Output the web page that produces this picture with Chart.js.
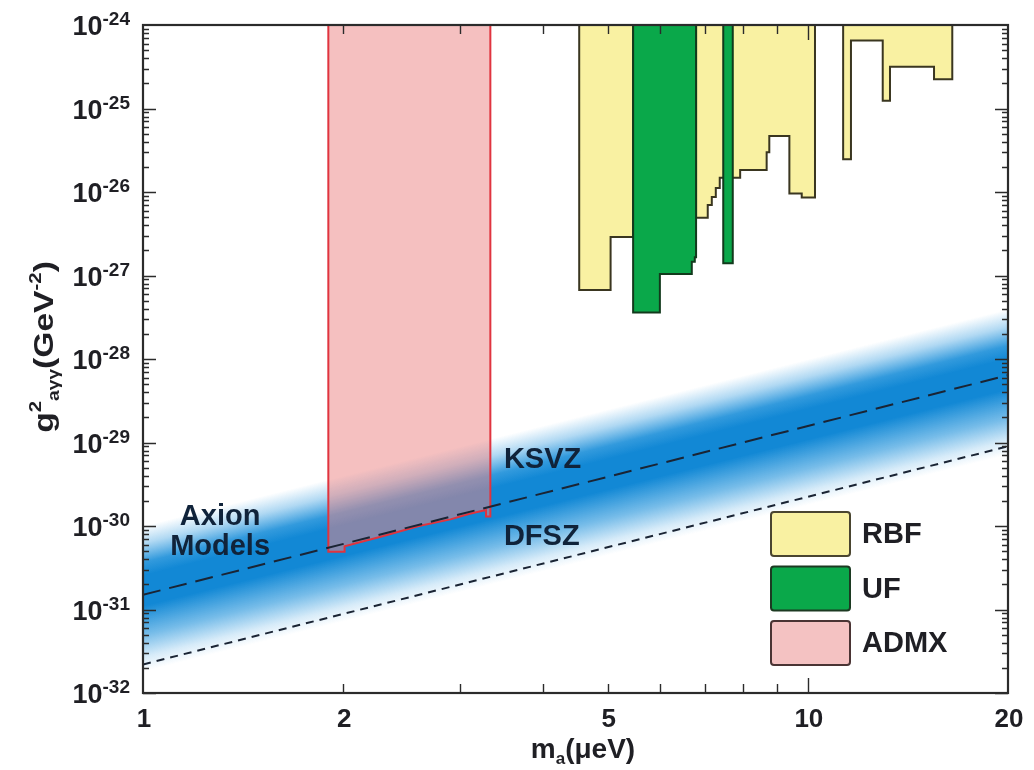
<!DOCTYPE html>
<html>
<head>
<meta charset="utf-8">
<script src="https://cdn.jsdelivr.net/npm/chart.js@4"></script>
<style>
  html, body { margin: 0; padding: 0; background: #fff; }
</style>
</head>
<body>
<canvas id="myChart" width="1034" height="770"></canvas>
<script>
// axis ranges and ticks
const massRange = [1, 20];
const couplingRange = [1e-32, 1e-24];
const massTicks = [1, 2, 5, 10, 20];
const massMinor = [2, 3, 4, 5, 6, 7, 8, 9, 10];
const decades = [-24, -25, -26, -27, -28, -29, -30, -31, -32];

// model lines (values at m = 1 and m = 20 ueV)
const ksvz = [1.5e-31, 6.4e-29];
const dfsz = [2.2e-32, 9.0e-30];
const bandTop = [1.0e-30, 4.0e-28];
const bandBottom = [1.8e-32, 7.0e-30];

// ADMX excluded region (lower edge)
const admxMass  = [1.90, 1.90, 2.01, 2.01, 2.3, 2.6, 2.9, 3.1, 3.28, 3.28, 3.33, 3.33];
const admxLimit = [1e-24, 4.9e-31, 4.9e-31, 5.7e-31, 7.6e-31, 1.0e-30, 1.2e-30, 1.4e-30, 1.55e-30, 1.3e-30, 1.3e-30, 1e-24];

// RBF excluded regions
const rbfMass = [4.53, 4.53, 5.05, 5.05, 5.46, 5.46,
  6.79, 6.79, 7.07, 7.07, 7.17, 7.17, 7.27, 7.27, 7.37, 7.37, 7.91, 7.91, 8.67, 8.67, 8.75, 8.75, 9.38, 9.38, 9.79, 9.79, 10.25, 10.25,
  11.30, 11.30, 11.61, 11.61, 12.96, 12.96, 13.29, 13.29, 15.48, 15.48, 16.49, 16.49];
const rbfLimit = [1e-24, 6.7e-28, 6.7e-28, 2.9e-27, 2.9e-27, 1e-24,
  1e-24, 4.9e-27, 4.9e-27, 7.0e-27, 7.0e-27, 8.7e-27, 8.7e-27, 1.12e-26, 1.12e-26, 1.48e-26, 1.48e-26, 1.83e-26, 1.83e-26, 3.0e-26, 3.0e-26, 4.7e-26, 4.7e-26, 9.6e-27, 9.6e-27, 8.6e-27, 8.6e-27, 1e-24,
  1e-24, 2.46e-26, 2.46e-26, 6.5e-25, 6.5e-25, 1.24e-25, 1.24e-25, 3.17e-25, 3.17e-25, 2.24e-25, 2.24e-25, 1e-24];

// UF excluded regions
const ufMass  = [5.46, 5.46, 5.99, 5.99, 6.69, 6.69, 6.76, 6.76, 6.79, 6.79, 7.46, 7.46, 7.71, 7.71];
const ufLimit = [1e-24, 3.6e-28, 3.6e-28, 1.04e-27, 1.04e-27, 1.46e-27, 1.46e-27, 1.65e-27, 1.65e-27, 1e-24, 1e-24, 1.4e-27, 1.4e-27, 1e-24];

const pts = (xs, ys) => xs.map((x, i) => ({ x: x, y: ys[i] }));
const FONT = '"Liberation Sans", Arial, Helvetica, sans-serif';
const INK = '#1f1f24';
const NAVY = '#10233a';

function bandFill(context) {
  const chart = context.chart;
  const area = chart.chartArea;
  if (!area) return 'rgba(0,0,0,0)';
  const xs = chart.scales.x, ys = chart.scales.y;
  const x0 = xs.getPixelForValue(massRange[0]), x1 = xs.getPixelForValue(massRange[1]);
  const c0 = (ys.getPixelForValue(bandTop[0]) + ys.getPixelForValue(bandBottom[0])) / 2;
  const c1 = (ys.getPixelForValue(bandTop[1]) + ys.getPixelForValue(bandBottom[1])) / 2;
  const ang = Math.atan2(c1 - c0, x1 - x0);
  const half = (ys.getPixelForValue(bandBottom[0]) - ys.getPixelForValue(bandTop[0])) / 2 * Math.cos(ang);
  const nx = -Math.sin(ang), ny = Math.cos(ang);
  const g = chart.ctx.createLinearGradient(x0 - nx * half, c0 - ny * half, x0 + nx * half, c0 + ny * half);
  g.addColorStop(0, 'rgba(30,145,220,0)');
  g.addColorStop(0.12, 'rgba(30,145,220,0.35)');
  g.addColorStop(0.25, 'rgba(22,140,216,0.88)');
  g.addColorStop(0.34, 'rgba(18,136,213,1)');
  g.addColorStop(0.55, 'rgba(18,136,213,1)');
  g.addColorStop(0.75, 'rgba(28,144,218,0.6)');
  g.addColorStop(0.9, 'rgba(30,145,220,0.18)');
  g.addColorStop(1, 'rgba(30,145,220,0)');
  return g;
}

function drawRich(c, parts, x, y) {
  let cx = x;
  parts.forEach(p => {
    c.font = p.font;
    c.fillText(p.t, cx, y + (p.dy || 0));
    cx += c.measureText(p.t).width;
  });
}
function richWidth(c, parts) {
  let w = 0;
  parts.forEach(p => { c.font = p.font; w += c.measureText(p.t).width; });
  return w;
}

const notes = [
  { text: 'Axion', m: 1.306, g: 1.03e-30, align: 'center' },
  { text: 'Models', m: 1.306, g: 4.5e-31, align: 'center' },
  { text: 'KSVZ', m: 3.49, g: 4.95e-30, align: 'left' },
  { text: 'DFSZ', m: 3.49, g: 5.9e-31, align: 'left' }
];

const frame = {
  id: 'frame',
  afterDatasetsDraw(chart) {
    const c = chart.ctx;
    const { left, right, top, bottom } = chart.chartArea;
    const xs = chart.scales.x, ys = chart.scales.y;
    c.save();

    // annotations
    c.fillStyle = NAVY;
    c.font = 'bold 29px ' + FONT;
    c.textBaseline = 'alphabetic';
    notes.forEach(n => {
      c.textAlign = n.align;
      c.fillText(n.text, xs.getPixelForValue(n.m), ys.getPixelForValue(n.g));
    });

    // ticks
    c.strokeStyle = '#2b2b2b';
    c.lineWidth = 1.4;
    c.beginPath();
    for (let e = -32; e < -24; e++) {
      for (let k = 1; k < 10; k++) {
        const py = Math.round(ys.getPixelForValue(k * Math.pow(10, e))) + 0.5;
        const len = k === 1 ? 13 : 6;
        c.moveTo(left, py); c.lineTo(left + len, py);
        c.moveTo(right, py); c.lineTo(right - len, py);
      }
    }
    massMinor.forEach(m => {
      const px = Math.round(xs.getPixelForValue(m)) + 0.5;
      const len = m === 10 ? 15 : 9;
      c.moveTo(px, bottom); c.lineTo(px, bottom - len);
      c.moveTo(px, top); c.lineTo(px, top + len);
    });
    c.stroke();

    // frame
    c.lineWidth = 2.2;
    c.strokeRect(left, top, right - left, bottom - top);

    // x tick labels
    c.fillStyle = INK;
    c.textAlign = 'center';
    c.font = 'bold 26px ' + FONT;
    massTicks.forEach(m => {
      c.fillText(String(m), xs.getPixelForValue(m) + 1, bottom + 34);
    });

    // y tick labels
    c.textAlign = 'left';
    decades.forEach(e => {
      const py = ys.getPixelForValue(Math.pow(10, e));
      const parts = [
        { t: '10', font: 'bold 27px ' + FONT, dy: 10 },
        { t: String(e), font: 'bold 19px ' + FONT, dy: 0 }
      ];
      const w = richWidth(c, parts);
      drawRich(c, parts, left - 13 - w, py);
    });

    // x axis title
    const xt = [
      { t: 'm', font: 'bold 28px ' + FONT },
      { t: 'a', font: 'bold 17px ' + FONT, dy: 6 },
      { t: '(\u03bceV)', font: 'bold 28px ' + FONT }
    ];
    drawRich(c, xt, 583 - richWidth(c, xt) / 2, bottom + 65);

    // y axis title
    c.save();
    c.translate(53, (top + bottom) / 2 - 12);
    c.rotate(-Math.PI / 2);
    c.scale(1.2, 1);
    const yt = [
      { t: 'g', font: 'bold 28px ' + FONT },
      { t: '2', font: 'bold 17px ' + FONT, dy: -12 },
      { t: 'a\u03b3\u03b3', font: 'bold 16px ' + FONT, dy: 6 },
      { t: '(GeV', font: 'bold 28px ' + FONT },
      { t: '-2', font: 'bold 17px ' + FONT, dy: -12 },
      { t: ')', font: 'bold 28px ' + FONT }
    ];
    drawRich(c, yt, -richWidth(c, yt) / 2, 0);
    c.restore();

    // legend
    const items = chart.data.datasets.filter(d => d.inLegend).sort((a, b) => a.legendRank - b.legendRank);
    items.forEach((d, i) => {
      const bx = right - 237, by = bottom - 181 + i * 54.5, bw = 79, bh = 44;
      c.beginPath();
      c.roundRect(bx, by, bw, bh, 3);
      c.fillStyle = d.legendFill;
      c.fill();
      c.lineWidth = 2;
      c.strokeStyle = d.legendEdge;
      c.stroke();
      c.fillStyle = INK;
      c.font = 'bold 29px ' + FONT;
      c.textAlign = 'left';
      c.textBaseline = 'middle';
      c.fillText(d.label, right - 146, by + bh / 2 + 1);
    });
    c.restore();
  }
};

const ctx = document.getElementById('myChart');

new Chart(ctx, {
  type: 'line',
  data: {
    datasets: [
      { label: 'band top', data: pts(massRange, bandTop), borderWidth: 0, pointRadius: 0, fill: false, order: 9 },
      { label: 'Axion Models', data: pts(massRange, bandBottom), borderWidth: 0, pointRadius: 0, fill: '-1', backgroundColor: bandFill, order: 9 },
      { label: 'ADMX', data: pts(admxMass, admxLimit), borderColor: '#e0343f', borderWidth: 2, backgroundColor: 'rgba(235,135,135,0.52)', fill: 'end', pointRadius: 0, order: 5,
        inLegend: true, legendRank: 3, legendFill: '#f4c2c2', legendEdge: '#4a3434' },
      { label: 'RBF', data: pts(rbfMass, rbfLimit), borderColor: '#3a3620', borderWidth: 2, backgroundColor: '#f9f1a2', fill: 'end', pointRadius: 0, order: 4,
        inLegend: true, legendRank: 1, legendFill: '#f9f1a2', legendEdge: '#4a4530' },
      { label: 'UF', data: pts(ufMass, ufLimit), borderColor: '#123a1c', borderWidth: 2, backgroundColor: '#0aa84a', fill: 'end', pointRadius: 0, order: 3,
        inLegend: true, legendRank: 2, legendFill: '#0aa84a', legendEdge: '#1c3a22' },
      { label: 'KSVZ', data: pts(massRange, ksvz), borderColor: '#1a2434', borderWidth: 2, borderDash: [18, 9], pointRadius: 0, fill: false, order: 1 },
      { label: 'DFSZ', data: pts(massRange, dfsz), borderColor: '#1a2434', borderWidth: 2, borderDash: [8, 6], pointRadius: 0, fill: false, order: 1 }
    ]
  },
  options: {
    responsive: false,
    animation: false,
    layout: { padding: { left: 143, right: 26, top: 25, bottom: 77 } },
    scales: {
      x: { type: 'logarithmic', min: massRange[0], max: massRange[1], display: false },
      y: { type: 'logarithmic', min: couplingRange[0], max: couplingRange[1], display: false }
    },
    plugins: {
      legend: { display: false },
      tooltip: { enabled: false }
    }
  },
  plugins: [frame]
});
</script>
</body>
</html>
